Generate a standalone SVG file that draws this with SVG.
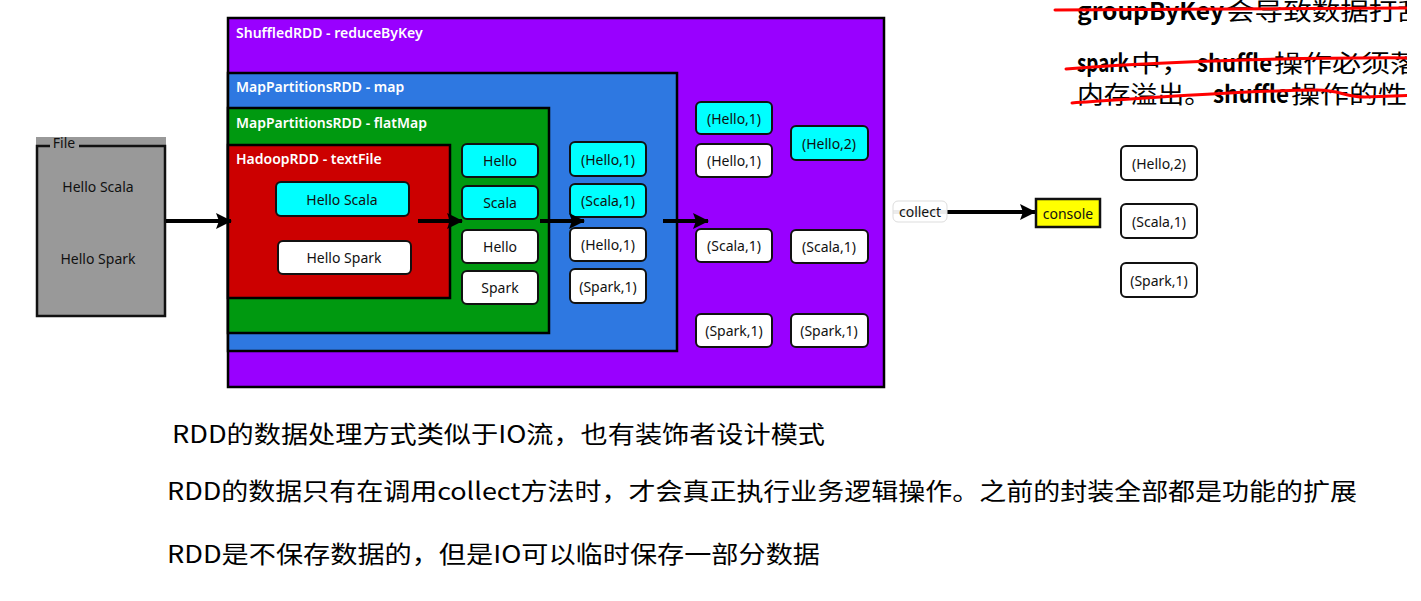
<svg xmlns="http://www.w3.org/2000/svg" width="1421" height="601" viewBox="0 0 1421 601">
<style>
.cont{stroke:#000;stroke-width:2.5}
.title{font-family:"Noto Sans","Liberation Sans",sans-serif;font-size:14px;font-weight:600;fill:#fff}
.box{stroke:#111;stroke-width:2}
.cy{fill:#00ffff}
.wh{fill:#fff}
.lbl{font-family:"Noto Sans","Liberation Sans",sans-serif;font-size:14px;fill:#111;text-anchor:middle;dominant-baseline:central}
.arr{stroke:#000;stroke-width:4;fill:none}
.note{font-family:"Noto Sans CJK SC","Noto Sans",sans-serif;fill:#000}
.lat{font-weight:600}
.strike{stroke:#ff0000;stroke-width:3;fill:none;stroke-linecap:round}
</style>
<defs>
<marker id="ah" markerUnits="userSpaceOnUse" markerWidth="18" markerHeight="18" refX="16" refY="9" orient="auto">
<path d="M1,1 L17,9 L1,17 L4,9 Z" fill="#000"/>
</marker>
<clipPath id="clipR"><rect x="0" y="0" width="1407" height="601"/></clipPath>
</defs>
<rect width="1421" height="601" fill="#fff"/>

<g id="file">
<rect x="36" y="137" width="130" height="180" fill="#999999"/>
<path d="M50 146 L37 146 L37 316 L165 316 L165 146 L79 146" fill="none" stroke="#111" stroke-width="2.5"/>
<text x="64" y="148" font-family="Noto Sans,Liberation Sans,sans-serif" font-size="14" fill="#111" text-anchor="middle">File</text>
<text x="98" y="186" class="lbl">Hello Scala</text>
<text x="98" y="258" class="lbl">Hello Spark</text>
</g>

<g id="shuffled">
<rect x="228" y="18" width="656" height="369" fill="#9900ff" class="cont"/>
<text x="236" y="38" class="title">ShuffledRDD - reduceByKey</text>
</g>
<g id="map">
<rect x="228" y="73" width="449" height="278" fill="#2e78e1" class="cont"/>
<text x="236" y="92" class="title">MapPartitionsRDD - map</text>
</g>
<g id="flatmap">
<rect x="228" y="108" width="321" height="225" fill="#009910" class="cont"/>
<text x="236" y="128" class="title">MapPartitionsRDD - flatMap</text>
</g>
<g id="hadoop">
<rect x="228" y="145" width="222" height="153" fill="#cc0000" class="cont"/>
<text x="236" y="164" class="title">HadoopRDD - textFile</text>
</g>

<g id="t1"><rect x="276" y="182" width="133" height="34" rx="5" class="box cy"/><text x="342" y="199" class="lbl">Hello Scala</text></g>
<g id="t2"><rect x="278" y="241" width="133" height="33" rx="5" class="box wh"/><text x="344" y="257" class="lbl">Hello Spark</text></g>

<g id="f1"><rect x="462" y="144" width="76" height="33" rx="5" class="box cy"/><text x="500" y="160" class="lbl">Hello</text></g>
<g id="f2"><rect x="462" y="186" width="76" height="33" rx="5" class="box cy"/><text x="500" y="202" class="lbl">Scala</text></g>
<g id="f3"><rect x="462" y="230" width="76" height="33" rx="5" class="box wh"/><text x="500" y="246" class="lbl">Hello</text></g>
<g id="f4"><rect x="462" y="271" width="76" height="33" rx="5" class="box wh"/><text x="500" y="287" class="lbl">Spark</text></g>

<g id="m1"><rect x="570" y="142" width="76" height="34" rx="5" class="box cy"/><text x="608" y="159" class="lbl">(Hello,1)</text></g>
<g id="m2"><rect x="570" y="184" width="76" height="33" rx="5" class="box cy"/><text x="608" y="200" class="lbl">(Scala,1)</text></g>
<g id="m3"><rect x="570" y="228" width="76" height="33" rx="5" class="box wh"/><text x="608" y="244" class="lbl">(Hello,1)</text></g>
<g id="m4"><rect x="570" y="269" width="76" height="34" rx="5" class="box wh"/><text x="608" y="286" class="lbl">(Spark,1)</text></g>

<g id="s1"><rect x="696" y="102" width="76" height="32" rx="5" class="box cy"/><text x="734" y="118" class="lbl">(Hello,1)</text></g>
<g id="s2"><rect x="696" y="144" width="76" height="33" rx="5" class="box wh"/><text x="734" y="160" class="lbl">(Hello,1)</text></g>
<g id="s3"><rect x="696" y="229" width="76" height="33" rx="5" class="box wh"/><text x="734" y="245" class="lbl">(Scala,1)</text></g>
<g id="s4"><rect x="696" y="314" width="76" height="33" rx="5" class="box wh"/><text x="734" y="330" class="lbl">(Spark,1)</text></g>
<g id="r1"><rect x="791" y="126" width="77" height="34" rx="5" class="box cy"/><text x="829" y="143" class="lbl">(Hello,2)</text></g>
<g id="r2"><rect x="791" y="230" width="77" height="33" rx="5" class="box wh"/><text x="829" y="246" class="lbl">(Scala,1)</text></g>
<g id="r3"><rect x="791" y="314" width="77" height="33" rx="5" class="box wh"/><text x="829" y="330" class="lbl">(Spark,1)</text></g>

<g id="connectors">
<line x1="166" y1="221" x2="231" y2="221" class="arr" marker-end="url(#ah)"/>
<line x1="418" y1="221" x2="462" y2="221" class="arr" marker-end="url(#ah)"/>
<line x1="540" y1="221" x2="584" y2="221" class="arr" marker-end="url(#ah)"/>
<line x1="663" y1="221" x2="708" y2="221" class="arr" marker-end="url(#ah)"/>
<line x1="893" y1="212" x2="1035" y2="212" class="arr" marker-end="url(#ah)"/>
</g>

<g id="collect">
<rect x="893" y="201" width="54" height="21" rx="5" fill="#fff" fill-opacity="0.92" stroke="#ddd" stroke-width="1"/>
<text x="920" y="211.5" class="lbl" font-size="13">collect</text>
</g>

<g id="console">
<rect x="1036" y="199" width="64" height="28" fill="#ffff00" stroke="#111" stroke-width="2.5"/>
<text x="1068" y="213" class="lbl">console</text>
</g>

<g id="o1"><rect x="1121" y="146" width="76" height="34" rx="5" class="box wh"/><text x="1159" y="163" class="lbl">(Hello,2)</text></g>
<g id="o2"><rect x="1121" y="204" width="76" height="34" rx="5" class="box wh"/><text x="1159" y="221" class="lbl">(Scala,1)</text></g>
<g id="o3"><rect x="1121" y="263" width="76" height="34" rx="5" class="box wh"/><text x="1159" y="280" class="lbl">(Spark,1)</text></g>

<g id="notes-top" clip-path="url(#clipR)">
<text class="note lat" font-size="24" x="1077" y="20" textLength="147" lengthAdjust="spacingAndGlyphs">groupByKey</text>
<text class="note" font-size="24" x="1226" y="20" textLength="200" lengthAdjust="spacingAndGlyphs">会导致数据打乱</text>
<text class="note lat" font-size="24" x="1077" y="72" textLength="52" lengthAdjust="spacingAndGlyphs">spark</text>
<text class="note" font-size="24" x="1131" y="72" textLength="60" lengthAdjust="spacingAndGlyphs">中，</text>
<text class="note lat" font-size="24" x="1197" y="72" textLength="75" lengthAdjust="spacingAndGlyphs">shuffle</text>
<text class="note" font-size="24" x="1274" y="72" textLength="145" lengthAdjust="spacingAndGlyphs">操作必须落</text>
<text class="note" font-size="24" x="1077" y="103" textLength="134" lengthAdjust="spacingAndGlyphs">内存溢出。</text>
<text class="note lat" font-size="24" x="1213" y="103" textLength="76" lengthAdjust="spacingAndGlyphs">shuffle</text>
<text class="note" font-size="24" x="1291" y="103" textLength="145" lengthAdjust="spacingAndGlyphs">操作的性能</text>
<path class="strike" d="M1055 10 L1421 8"/>
<path class="strike" d="M1066 69 C1150 62 1300 57 1421 58"/>
<path class="strike" d="M1072 103 C1150 98 1250 90 1317 90 C1340 90 1345 97 1365 97 L1421 95"/>
</g>

<g id="notes-bottom">
<text class="note" font-size="24" x="172" y="443" textLength="653" lengthAdjust="spacingAndGlyphs">RDD的数据处理方式类似于IO流，也有装饰者设计模式</text>
<text class="note" font-size="24" x="167" y="500" textLength="1190" lengthAdjust="spacingAndGlyphs">RDD的数据只有在调用collect方法时，才会真正执行业务逻辑操作。之前的封装全部都是功能的扩展</text>
<text class="note" font-size="24" x="167" y="563" textLength="653" lengthAdjust="spacingAndGlyphs">RDD是不保存数据的，但是IO可以临时保存一部分数据</text>
</g>
</svg>
